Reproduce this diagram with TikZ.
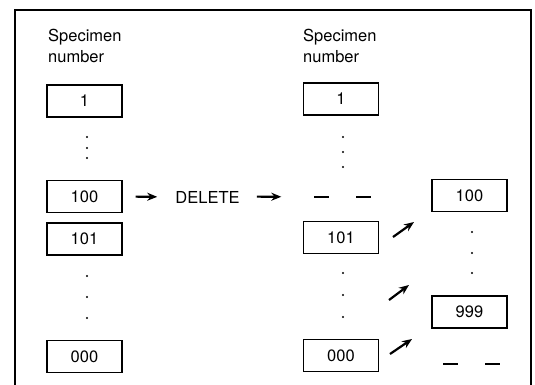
\documentclass[tikz,border=0pt]{standalone}
\usepackage{fontspec}
\setmainfont{TeX Gyre Heros}
\usetikzlibrary{arrows.meta}
\begin{document}
\begin{tikzpicture}[x=1pt,y=-1pt,
  every node/.style={font=\fontsize{16.5}{21}\selectfont},
  numbox/.style={draw,line width=1.3pt,minimum width=75pt,minimum height=32pt,inner sep=0pt},
  dotmark/.style={fill,circle,inner sep=0pt,minimum size=2.4pt},
  arr/.style={line width=2.2pt,-{Stealth[length=10pt,width=8pt]}},
  gapmark/.style={inner sep=0pt,minimum width=56pt,minimum height=4pt}]
\useasboundingbox (0,0) rectangle (535,384);
% frame
\draw[line width=1.8pt] (15,386) -- (15,10) -- (531,10) -- (531,386);
% headers
\node[anchor=north west,align=left,inner sep=0pt] (h1) at (48,29) {Specimen\\number};
\node[anchor=north west,align=left,inner sep=0pt] (h2) at (303,29) {Specimen\\number};
% left column
\node[numbox] (l1) at (84.5,101) {1};
\node[dotmark] (ld1) at (87,137) {};
\node[dotmark] (ld2) at (87,148) {};
\node[dotmark] (ld3) at (87,158) {};
\node[numbox] (l100) at (84.5,196.5) {100};
\node[numbox] (l101) at (84.5,239) {101};
\node[dotmark] (ld4) at (87,276) {};
\node[dotmark] (ld5) at (87,297) {};
\node[dotmark] (ld6) at (87,318) {};
\node[numbox] (l000) at (84.5,356.5) {000};
% delete
\node[inner sep=0pt] (del) at (207.5,197) {DELETE};
% middle column
\node[numbox] (m1) at (341,99) {1};
\node[dotmark] (md1) at (343,137) {};
\node[dotmark] (md2) at (343,152) {};
\node[dotmark] (md3) at (343,167) {};
\node[gapmark] (mgap) at (342.5,197) {};
\draw[line width=1.6pt] (mgap.west) -- ++(15,0);
\draw[line width=1.6pt] (mgap.east) -- ++(-15,0);
\node[numbox] (m101) at (341,237.5) {101};
\node[dotmark] (md4) at (343,273) {};
\node[dotmark] (md5) at (343,295) {};
\node[dotmark] (md6) at (343,317) {};
\node[numbox] (m000) at (341,355.5) {000};
% right column
\node[numbox] (r100) at (469.5,195.5) {100};
\node[dotmark] (rd1) at (472,232) {};
\node[dotmark] (rd2) at (472,253) {};
\node[dotmark] (rd3) at (472,273) {};
\node[numbox] (r999) at (469.5,312) {999};
\node[gapmark] (rgap) at (471.5,364) {};
\draw[line width=1.6pt] (rgap.west) -- ++(15,0);
\draw[line width=1.6pt] (rgap.east) -- ++(-15,0);
% arrows
\draw[arr,shorten <=13pt,shorten >=18pt] (l100.east) -- (del.west);
\draw[arr,shorten <=17pt,shorten >=33pt] (del.east |- l100.east) -- (mgap.west);
\coordinate (a1s) at (393,237);
\coordinate (a1e) at (414,222);
\coordinate (a2s) at (389,300);
\coordinate (a2e) at (409,285);
\coordinate (a3s) at (390,354);
\coordinate (a3e) at (412,339);
\draw[arr] (a1s) -- (a1e);
\draw[arr] (a2s) -- (a2e);
\draw[arr] (a3s) -- (a3e);
\end{tikzpicture}
\end{document}
